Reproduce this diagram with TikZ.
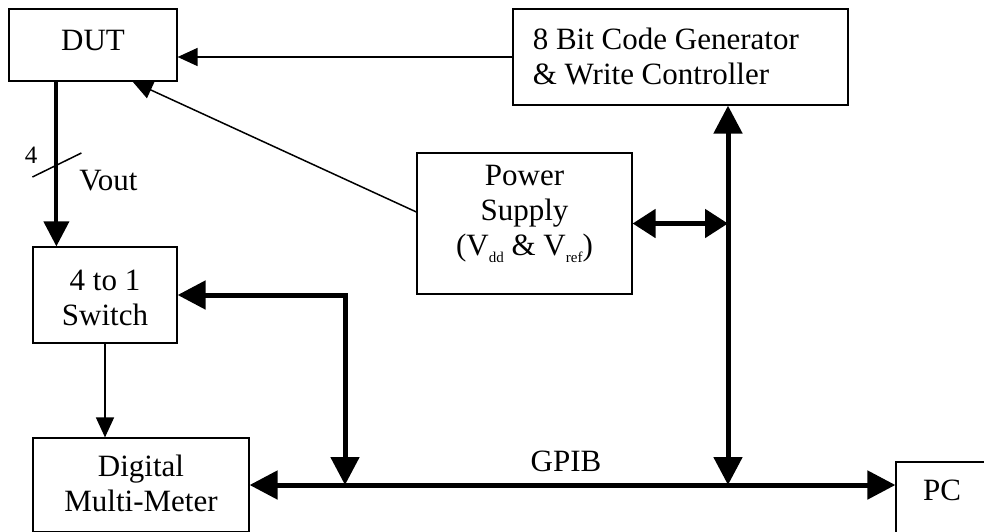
\documentclass[tikz,border=0pt]{standalone}
\usepackage{fontspec}
\setmainfont{Liberation Serif}
\usetikzlibrary{arrows.meta, positioning, fit, calc}
\newcommand{\lowsub}[1]{\raisebox{-3.5pt}{\fontsize{7.5}{8}\selectfont #1}}

\begin{document}
\begin{tikzpicture}[
    x=0.5pt, y=-0.5pt,
    every node/.style={font=\fontsize{15.5}{17.5}\selectfont},
    box/.style={draw, line width=0.6pt, inner sep=0pt},
    txt/.style={anchor=north, align=center, inner sep=0pt},
    smalltxt/.style={font=\fontsize{12.5}{14}\selectfont, inner sep=0pt},
    thinarrow/.style={-{Triangle[length=10pt, width=9pt]}, line width=0.75pt},
    voutarrow/.style={-{Triangle[length=12.5pt, width=12.5pt]}, line width=2pt},
    bus/.style={{Triangle[length=14pt, width=14pt]}-{Triangle[length=14pt, width=14pt]}, line width=2.5pt},
    link/.style={{Triangle[length=11.5pt, width=14pt]}-{Triangle[length=11.5pt, width=14pt]}, line width=2.5pt},
]
\useasboundingbox (0,0) rectangle (984,531);

% ===== Blocks =====
\node[box, fit={(9,9) (177,81)},
      label={[txt, yshift=-10.5pt]north:DUT}] (dut) {};
\node[box, fit={(513,9) (848,105)},
      label={[txt, anchor=north west, align=left, xshift=10pt, yshift=-9.5pt]north west:{8 Bit Code Generator\\\& Write Controller}}] (gen) {};
\node[box, fit={(417,153) (632,294)},
      label={[txt, yshift=-6pt]north:{Power\\Supply\\(V\lowsub{dd} \& V\lowsub{ref})}}] (psu) {};
\node[box, fit={(33,247) (177,343)},
      label={[txt, yshift=-11.5pt]north:{4 to 1\\Switch}}] (sw) {};
\node[box, fit={(33,438) (249,532)},
      label={[txt, yshift=-8.5pt]north:{Digital\\Multi-Meter}}] (dmm) {};
\node[box, fit={(896,462) (988,545)},
      label={[txt, yshift=-9pt]north:PC}] (pc) {};

% ===== Signal paths =====
\draw[thinarrow] (gen.west) -- (gen.west -| dut.east);
\draw[thinarrow] ($(psu.west)+(0,-11.5)$) -- ($(dut.south east)+(-45,0)$);

\coordinate (vtop) at ($(dut.south west)+(48,0)$);
\draw[voutarrow] (vtop) -- (vtop |- sw.north)
    node[pos=0.446, left=8.5pt, smalltxt] (nbits) {4}
    node[pos=0.6, right=10.5pt, inner sep=0pt] (voutlbl) {Vout}
    coordinate[midway] (slash);
\draw[line width=0.75pt] ($(slash)+(-24,13)$) -- ($(slash)+(25,-11)$);

\draw[thinarrow] (sw.south) -- (sw.south |- dmm.north);

% ===== GPIB bus =====
\coordinate (tapsw) at (345,485);
\coordinate (tapgen) at (728,485);
\draw[bus] (dmm.east) -- (dmm.east -| pc.west)
    node[pos=0.49, above=5.5pt, inner sep=0pt] (gpib) {GPIB};
\draw[bus] (sw.east) -| (tapsw);
\draw[bus] (gen.south -| tapgen) -- (tapgen);
\draw[link] (psu.east) -- (psu.east -| tapgen);

\end{tikzpicture}
\end{document}
